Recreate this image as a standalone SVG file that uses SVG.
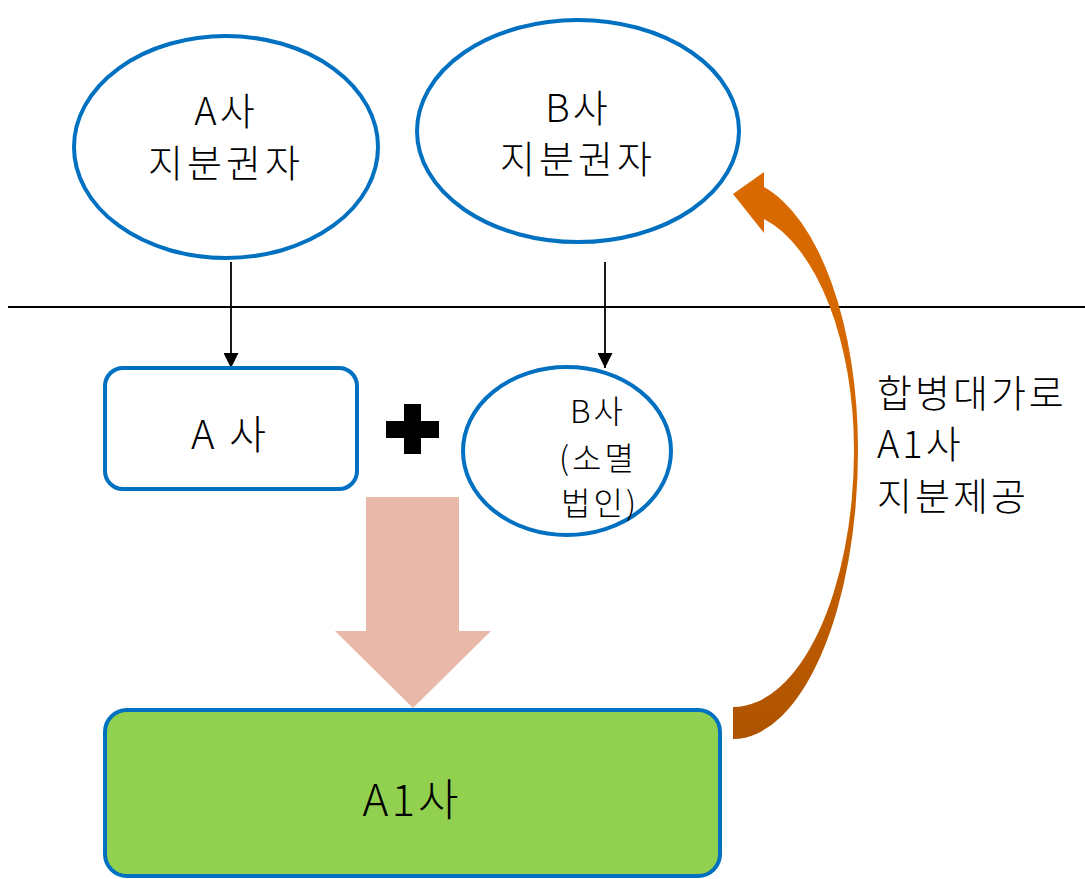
<svg xmlns="http://www.w3.org/2000/svg" width="1085" height="879" viewBox="0 0 1085 879">
<style>
.node{fill:#fff;stroke:#0070C0;stroke-width:4}
.t{font-family:"Noto Sans CJK KR","Noto Sans",sans-serif;font-weight:300;fill:#000;text-anchor:middle}
.conn{stroke:#000;stroke-width:1.8;fill:none}
</style>
<defs>
<marker id="ah" viewBox="0 0 10 10" refX="10" refY="5" markerWidth="15" markerHeight="15" markerUnits="userSpaceOnUse" orient="auto">
<path d="M0,0 L10,5 L0,10 Z" fill="#000"/>
</marker>
<linearGradient id="cg" x1="0" y1="0" x2="0" y2="1">
<stop offset="0" stop-color="#DA6A00"/>
<stop offset="0.5" stop-color="#D26600"/>
<stop offset="1" stop-color="#AE5300"/>
</linearGradient>
</defs>
<line x1="8" y1="307" x2="1085" y2="307" stroke="#000" stroke-width="2"/>
<g id="connectors">
<line class="conn" x1="231" y1="262" x2="231" y2="368" marker-end="url(#ah)"/>
<line class="conn" x1="605" y1="262" x2="605" y2="368" marker-end="url(#ah)"/>
<path d="M366,497 L459,497 L459,631 L491,631 L413,708 L335,631 L366,631 Z" fill="#EAB8A9"/>
<path d="M733,739 A125,289 0 0 0 858,450 A125,271 0 0 0 764,187 L764,172 L733,194 L764,233 L764,219 A121,239 0 0 1 854,450 A121,257 0 0 1 733,707 Z" fill="url(#cg)"/>
</g>
<g id="plus">
<path d="M404,404 L421,404 L421,421 L439,421 L439,438 L421,438 L421,454 L404,454 L404,438 L386,438 L386,421 L404,421 Z" fill="#000"/>
</g>
<g id="a-holders">
<ellipse class="node" cx="226" cy="147" rx="152" ry="111"/>
<text class="t" x="226" y="125" font-size="38" letter-spacing="3">A사</text>
<text class="t" x="226" y="177" font-size="38" letter-spacing="4">지분권자</text>
</g>
<g id="b-holders">
<ellipse class="node" cx="578" cy="131" rx="161" ry="111"/>
<text class="t" x="578" y="122" font-size="38" letter-spacing="3">B사</text>
<text class="t" x="578" y="173" font-size="38" letter-spacing="4">지분권자</text>
</g>
<g id="a-company">
<rect class="node" x="105" y="368" width="252" height="121" rx="18"/>
<text class="t" x="230" y="449" font-size="40" letter-spacing="3">A 사</text>
</g>
<g id="b-company">
<ellipse class="node" cx="567" cy="451" rx="104" ry="84"/>
<text class="t" x="598" y="423" font-size="32" letter-spacing="3">B사</text>
<text class="t" x="598" y="470" font-size="32" letter-spacing="3">(소멸</text>
<text class="t" x="600" y="515" font-size="32" letter-spacing="3">법인)</text>
</g>
<g id="a1-company">
<rect x="105" y="710" width="615" height="166" rx="22" fill="#92D050" stroke="#0070C0" stroke-width="4"/>
<text class="t" x="412" y="816" font-size="44" letter-spacing="3">A1사</text>
</g>
<g id="label">
<text class="t" style="text-anchor:start" x="877" y="407" font-size="38" letter-spacing="3">합병대가로</text>
<text class="t" style="text-anchor:start" x="877" y="458" font-size="38" letter-spacing="3">A1사</text>
<text class="t" style="text-anchor:start" x="877" y="510" font-size="38" letter-spacing="3">지분제공</text>
</g>
</svg>
